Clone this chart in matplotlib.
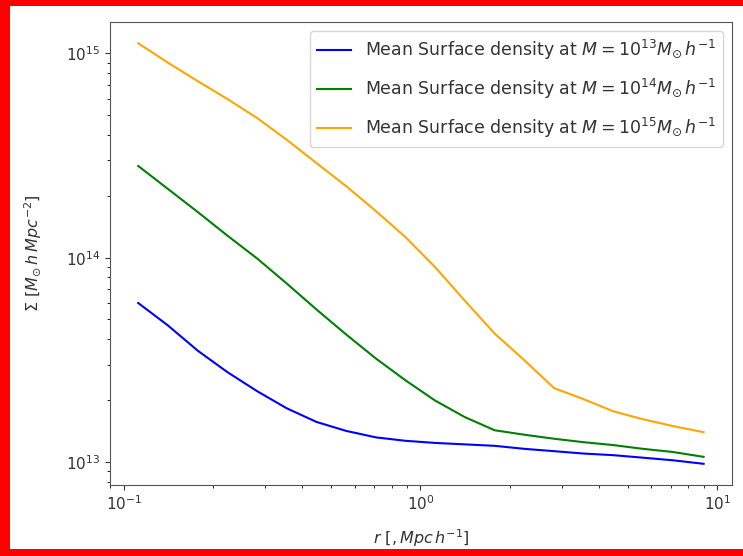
import numpy as np
import matplotlib
matplotlib.use("Agg")
import matplotlib.pyplot as plt
from matplotlib.patches import Rectangle

# ------------------------------------------------------------
# Mean surface density profiles for three halo masses
# ------------------------------------------------------------

r = [0.112, 0.141, 0.178, 0.224, 0.282, 0.355, 0.447, 0.562, 0.708, 0.891,
     1.12, 1.41, 1.78, 2.24, 2.82, 3.55, 4.47, 5.62, 7.08, 9.0]

sigma_1e13 = [6.0e13, 4.66e13, 3.5e13, 2.75e13, 2.22e13, 1.83e13, 1.57e13, 1.42e13,
              1.32e13, 1.27e13, 1.24e13, 1.22e13, 1.20e13, 1.16e13, 1.13e13, 1.10e13,
              1.08e13, 1.05e13, 1.02e13, 0.98e13]
sigma_1e14 = [2.81e14, 2.17e14, 1.67e14, 1.28e14, 9.9e13, 7.46e13, 5.57e13, 4.21e13,
              3.21e13, 2.51e13, 2.0e13, 1.66e13, 1.43e13, 1.36e13, 1.30e13, 1.25e13,
              1.21e13, 1.16e13, 1.12e13, 1.06e13]
sigma_1e15 = [1.12e15, 9.0e14, 7.3e14, 5.97e14, 4.82e14, 3.77e14, 2.9e14, 2.24e14,
              1.69e14, 1.26e14, 9.0e13, 6.17e13, 4.25e13, 3.15e13, 2.30e13, 2.03e13,
              1.77e13, 1.62e13, 1.50e13, 1.40e13]

masses = ["13", "14", "15"]
colors = ["blue", "green", "orange"]

fig = plt.figure(figsize=(7.43, 5.56), dpi=100)
ax = fig.add_axes([0.148, 0.128, 0.837, 0.832])

for m, c, s in zip(masses, colors, [sigma_1e13, sigma_1e14, sigma_1e15]):
    ax.plot(r, s, color=c, linewidth=1.5,
            label=r"Mean Surface density at $M = 10^{%s} M_{\odot}\, h^{-1}$" % m)

ax.set_xscale("log")
ax.set_yscale("log")
ax.set_xlabel(r"$r\ [, Mpc\, h^{-1}]$", fontsize=11.5, labelpad=10, color="#333333")
ax.set_ylabel(r"$\Sigma\ [M_{\odot}\, h\, Mpc^{-2}]$", fontsize=11.5, labelpad=16,
              color="#333333")
ax.tick_params(labelsize=11, colors="#333333")
leg = ax.legend(fontsize=12.5, loc="upper right", labelspacing=0.85)
for t in leg.get_texts():
    t.set_color("#333333")

for sp in ax.spines.values():
    sp.set_color("#555555")

# red frame around the figure
for x0, y0, w, h in [(0, 0.9892, 1, 0.0108), (0, 0, 0.0135, 1), (0, 0, 1, 0.0126)]:
    fig.add_artist(Rectangle((x0, y0), w, h, transform=fig.transFigure,
                             facecolor="red", edgecolor="none"))

fig.savefig("out.png", dpi=100)
